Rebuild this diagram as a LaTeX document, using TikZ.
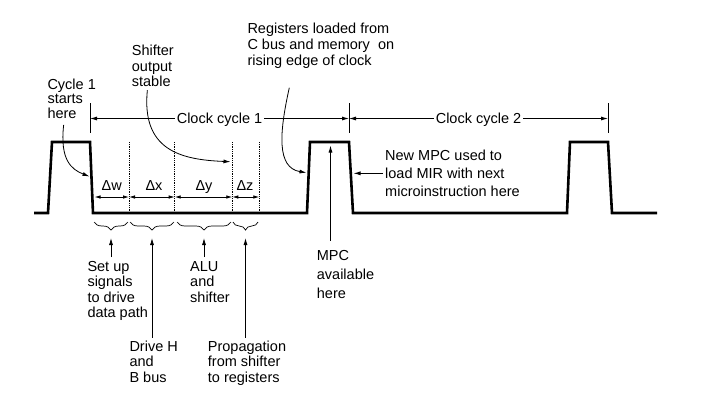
\documentclass[tikz,border=0pt]{standalone}
\usepackage{fontspec}
\setmainfont{Liberation Sans}
\usetikzlibrary{arrows.meta,decorations.pathreplacing}

\begin{document}
\begin{tikzpicture}[x=1pt, y=-1pt,
    wave/.style={line width=2.6pt, line join=miter},
    lbl/.style={anchor=north west, inner sep=0pt, align=left,
                font=\fontsize{14.5}{15.4}\selectfont},
    arr/.style={-{Latex[length=7pt,width=4pt]}, line width=0.8pt},
    dimarr/.style={{Latex[length=6pt,width=3.5pt]}-{Latex[length=6pt,width=3.5pt]},
                   line width=0.8pt},
    capt/.style={inner xsep=2pt, inner ysep=0pt, text height=10.4pt, text depth=0pt,
                 font=\fontsize{14.5}{15.4}\selectfont},
    brc/.style={decorate, decoration={brace, mirror, amplitude=8pt}, line width=0.7pt}]
  \useasboundingbox (0,0) rectangle (720,400);

  % clock signal
  \draw[wave] (34,213) -- (48,213) -- (52,142) -- (90,142) -- (93,213)
    -- (307,213) -- (310,142) -- (349,142) -- (353,213)
    -- (567,213) -- (570,142) -- (608,142) -- (612,213) -- (657,213);
  \coordinate (fall1) at (89.5,176.5);
  \coordinate (rise2) at (306.5,172.7);
  \coordinate (top2) at (330.5,145.5);
  \coordinate (fall2) at (353.5,173.3);
  \coordinate (stab) at (230.5,161.7);

  % clock cycles
  \foreach \x/\n in {90/t1, 349/t2, 608/t3} {
    \draw[line width=0.8pt] (\x,103) -- (\x,133);
    \coordinate (\n) at (\x,118.5);
  }
  \node[capt] (cc1) at (219.5,118.5) {Clock cycle 1};
  \node[capt] (cc2) at (478.5,118.5) {Clock cycle 2};
  \draw[arr] (cc1) -- (t1);
  \draw[arr] (cc1) -- (t2);
  \draw[arr] (cc2) -- (t2);
  \draw[arr] (cc2) -- (t3);

  % delays
  \foreach \x in {129,174.7,232.3,259.3}
    \draw[densely dotted, line width=0.8pt] (\x,142) -- (\x,213);
  \foreach \x/\n in {94.5/d0, 129/d1, 174.7/d2, 232.3/d3, 259.3/d4}
    \coordinate (\n) at (\x,197);
  \draw[dimarr] (d0) -- (d1);
  \draw[dimarr] (d1) -- (d2);
  \draw[dimarr] (d2) -- (d3);
  \draw[dimarr] (d3) -- (d4);
  \node[capt] (dw) at (111.7,185) {Δw};
  \node[capt] (dx) at (154,185) {Δx};
  \node[capt] (dy) at (204,185) {Δy};
  \node[capt] (dz) at (245,185) {Δz};

  \foreach \a/\b/\n in {94/128/bA, 130/174/bB, 177/231/bC, 233/258/bD} {
    \draw[brc] (\a,222) -- (\b,222);
    \coordinate (\n) at ({(\a+\b)/2},238);
  }

  % labels
  \node[lbl] (setup) at (87.3,261.2) {Set up\\signals\\to drive\\data path};
  \node[lbl] (alu) at (190,261.2) {ALU\\and\\shifter};
  \node[lbl] (drive) at (129.3,340.5) {Drive H\\and\\B bus};
  \node[lbl] (prop) at (207.7,340.5) {Propagation\\from shifter\\to registers};
  \node[lbl, font=\fontsize{14.5}{19}\selectfont] (mpc) at (316.7,250.5) {MPC\\available\\here};
  \node[lbl, font=\fontsize{14.5}{18.3}\selectfont] (newmpc) at (385,149.5)
    {New MPC used to\\load MIR with next\\microinstruction here};
  \node[lbl, font=\fontsize{14.5}{14.7}\selectfont] (cyc) at (47.3,78.5) {Cycle 1\\starts\\here};
  \node[lbl, font=\fontsize{14.5}{15.8}\selectfont] (shft) at (131.7,44.5) {Shifter\\output\\stable};
  \node[lbl, font=\fontsize{14.5}{16}\selectfont] (regs) at (247.3,22.8)
    {Registers loaded from\\C bus and memory\ \ on\\rising edge of clock};

  \draw[arr, shorten <=4pt] (setup.north -| bA) -- (bA);
  \draw[arr, shorten <=3pt] (drive.north -| bB) -- (bB);
  \draw[arr, shorten <=4pt] (alu.north -| bC) -- (bC);
  \draw[arr, shorten <=3pt] (prop.north -| bD) -- (bD);
  \draw[arr, shorten <=10pt] (mpc.north -| top2) -- (top2);
  \draw[arr, shorten <=2pt] (newmpc.west) -- (newmpc.west -| fall2);
  \draw[arr] ([xshift=-8pt,yshift=-6pt]cyc.south) .. controls +(-4,35) and +(-18,-7) .. (fall1);
  \draw[arr] ([xshift=-5.5pt,yshift=-3pt]shft.south) .. controls +(-6,60) and +(-50,-2) .. (stab);
  \draw[arr] ([xshift=42pt,yshift=-19pt]regs.south west) .. controls +(-10,45) and +(-30,-5) .. (rise2);
\end{tikzpicture}
\end{document}
